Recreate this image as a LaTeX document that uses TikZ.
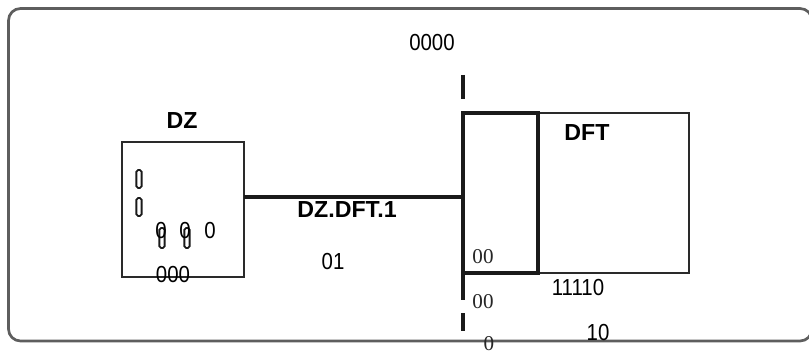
\documentclass[tikz,border=0pt]{standalone}
\usepackage{fontspec}
\usepackage{xcolor}
\setmainfont{Liberation Sans}
\newfontfamily\narrowdigits[FakeStretch=0.88]{Liberation Sans}
\newfontfamily\serifdigits{Liberation Serif}
\definecolor{frameink}{HTML}{5E5E5E}
\definecolor{boxink}{HTML}{2A2A2A}
\definecolor{lineink}{HTML}{1A1A1A}

\begin{document}
\begin{tikzpicture}[-,x=0.025cm,y=-0.025cm,
  point/.style={coordinate},
  block/.style={draw=boxink, line width=1.9pt, rectangle, inner sep=0pt},
  slot/.style={draw=lineink, line width=1.3pt, rounded corners=1.2pt, rectangle, inner sep=0pt, minimum width=0.13cm},
  tag/.style={inner sep=0pt, text=black, font=\bfseries\fontsize{16.5}{16.5}\selectfont},
  num/.style={inner sep=0pt, text=black, font=\narrowdigits\fontsize{16.5}{16.5}\selectfont},
  serifnum/.style={inner sep=0pt, text=black!85, font=\serifdigits\fontsize{15}{15}\selectfont},
  wire/.style={draw=lineink, line width=2.3pt}]
\useasboundingbox (0,0) rectangle (809,354);
% outer frame
\draw[draw=frameink, line width=1.9pt, rounded corners=0.3cm] (8.5,8.5) rectangle (812,341);
% DZ unit
\node[block, minimum width=3.05cm, minimum height=3.375cm] (dz) at (183,209.5) {};
\node[tag] (dzname) at (182,121) {DZ};
\node[slot, minimum height=0.45cm] (s1) at (139,179) {};
\node[slot, minimum height=0.45cm] (s2) at (139,207) {};
\node[slot, minimum height=0.5cm] (s3) at (162,238) {};
\node[slot, minimum height=0.5cm] (s4) at (187,238) {};
\node[num] (z1) at (161,231) {0};
\node[num] (z2) at (185,231) {0};
\node[num] (z3) at (210,231) {0};
\node[num] (dzcode) at (173,275) {000};
% link
\node[point] (c0) at (244,197) {};
\node[point] (c1) at (463,197) {};
\draw[wire, line width=2.6pt] (c0) -- (c1);
\node[tag] (link) at (347,210) {DZ.DFT.1};
\node[num] (linkno) at (333,262) {01};
% DFT unit
\node[block, line width=1.7pt, minimum width=5.65cm, minimum height=4cm] (dft) at (576,193) {};
\node[block, draw=lineink, line width=2.5pt, minimum width=1.875cm, minimum height=4cm] (port) at (500.5,193) {};
\node[tag] (dftname) at (587,133) {DFT};
\node[num] (top) at (432,43) {0000};
\node[serifnum] (p1) at (483,257) {00};
\node[serifnum] (p2) at (483,302) {00};
\node[serifnum] (p3) at (489,344) {0};
\node[num] (dftcode) at (578,288) {11110};
\node[num] (dftno) at (598,333) {10};
% boundary
\node[point] (a0) at (463,75) {};
\node[point] (a1) at (463,99) {};
\node[point] (a2) at (463,113) {};
\node[point] (a3) at (463,300) {};
\node[point] (a4) at (463,313) {};
\node[point] (a5) at (463,331) {};
\draw[wire]   (a0) -- (a1);
\draw[wire]   (a2) -- (a3);
\draw[wire]   (a4) -- (a5);
\end{tikzpicture}
\end{document}
